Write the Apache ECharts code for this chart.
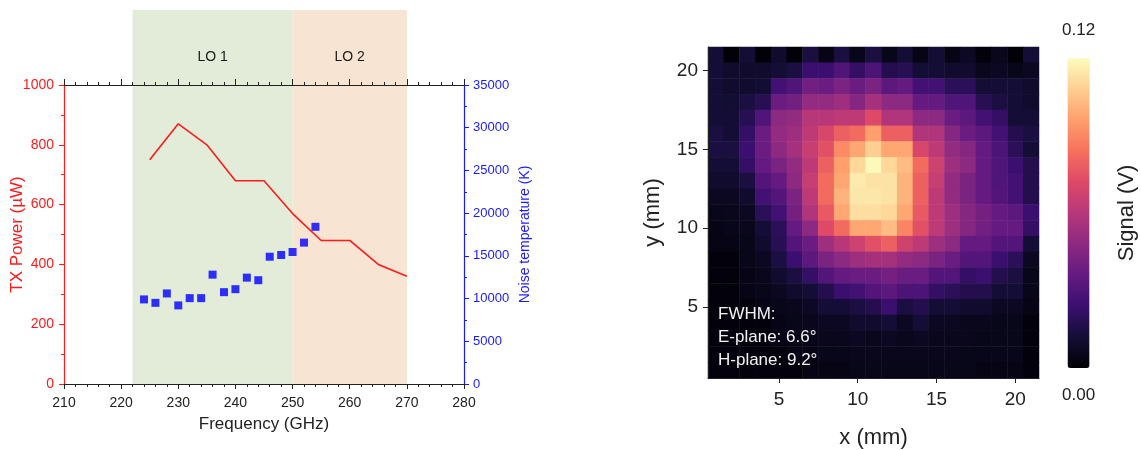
<!DOCTYPE html>
<html>
<head>
<meta charset="utf-8">
<script src="https://cdn.jsdelivr.net/npm/echarts@6/dist/echarts.min.js"></script>
<style>
  html, body { margin: 0; padding: 0; background: #fff; }
  #chart { width: 1141px; height: 450px; }
</style>
</head>
<body>
<div id="chart"></div>
<script>
// left panel: TX power and noise temperature vs frequency
var freqTx = [225, 230, 235, 240, 245, 250, 255, 260, 265, 270];
var txPower = [750, 870, 800, 680, 680, 570, 480, 480, 400, 360];

var freqNoise = [224, 226, 228, 230, 232, 234, 236, 238, 240, 242, 244, 246, 248, 250, 252, 254];
var noiseTemp = [9900, 9500, 10600, 9200, 10050, 10050, 12800, 10750, 11100, 12450, 12150, 14900, 15100, 15450, 16550, 18400];

// LO bands (GHz)
var loNames = ['LO 1', 'LO 2'];
var loStart = [222, 250];
var loEnd = [250, 270];

// right panel: beam map, signal in mV, rows from y = 21 (top) down to y = 1
var mapX = ['1','2','3','4','5','6','7','8','9','10','11','12','13','14','15','16','17','18','19','20','21'];
var mapY = ['1','2','3','4','5','6','7','8','9','10','11','12','13','14','15','16','17','18','19','20','21'];
var signalRows = [
  [12, 1, 12, 1, 10, 1, 14, 4, 14, 5, 14, 5, 12, 4, 12, 4, 8, 2, 6, 1, 12],
  [12, 10, 10, 10, 12, 14, 24, 24, 30, 22, 29, 17, 18, 12, 12, 10, 10, 6, 7, 5, 7],
  [12, 10, 10, 11, 26, 30, 40, 38, 43, 38, 43, 34, 36, 26, 26, 19, 19, 12, 12, 12, 10],
  [12, 11, 14, 18, 38, 40, 50, 50, 53, 46, 55, 48, 48, 36, 36, 30, 30, 18, 14, 12, 10],
  [12, 12, 18, 30, 48, 50, 60, 60, 62, 62, 72, 58, 58, 48, 48, 38, 34, 26, 22, 12, 12],
  [14, 12, 22, 38, 50, 53, 62, 70, 79, 82, 96, 79, 79, 58, 58, 46, 38, 34, 26, 17, 14],
  [14, 14, 24, 38, 48, 55, 65, 74, 91, 98, 108, 98, 98, 70, 62, 50, 46, 36, 29, 19, 12],
  [12, 12, 22, 36, 43, 50, 62, 79, 96, 110, 119, 110, 103, 82, 67, 53, 48, 36, 30, 24, 17],
  [10, 10, 14, 31, 36, 48, 65, 82, 98, 115, 113, 113, 101, 79, 65, 50, 43, 36, 30, 26, 17],
  [7, 7, 10, 26, 31, 43, 62, 82, 101, 114, 114, 113, 101, 79, 62, 50, 43, 36, 31, 26, 17],
  [5, 6, 7, 19, 26, 41, 58, 77, 98, 112, 112, 110, 98, 77, 62, 53, 46, 41, 36, 34, 24],
  [4, 5, 6, 12, 19, 36, 48, 72, 82, 98, 98, 103, 89, 74, 62, 53, 46, 40, 36, 36, 22],
  [4, 4, 5, 10, 18, 31, 38, 53, 60, 67, 74, 79, 67, 62, 53, 48, 36, 36, 31, 31, 12],
  [2, 2, 5, 7, 14, 24, 34, 43, 48, 53, 55, 55, 50, 48, 43, 38, 31, 31, 24, 19, 7],
  [2, 2, 4, 6, 10, 14, 22, 31, 36, 38, 38, 41, 38, 38, 31, 31, 22, 24, 17, 14, 5],
  [2, 2, 4, 5, 7, 10, 12, 17, 24, 26, 31, 34, 29, 29, 22, 19, 17, 17, 12, 12, 5],
  [2, 2, 2, 4, 5, 6, 8, 12, 12, 14, 17, 24, 14, 17, 12, 12, 10, 10, 7, 7, 4],
  [2, 2, 2, 2, 4, 5, 6, 7, 7, 10, 10, 12, 7, 12, 7, 7, 6, 6, 5, 5, 2],
  [2, 2, 2, 2, 4, 4, 5, 6, 6, 7, 6, 7, 6, 7, 6, 6, 6, 5, 5, 5, 2],
  [2, 2, 2, 2, 2, 4, 4, 5, 5, 6, 6, 6, 6, 6, 6, 6, 5, 5, 5, 5, 2],
  [2, 2, 2, 2, 2, 2, 4, 4, 4, 5, 5, 5, 5, 5, 5, 5, 5, 4, 4, 4, 2]
];
var mapTicks = ['5', '10', '15', '20'];
var magma = ['#000004', '#140e36', '#3b0f70', '#641a80', '#8c2981', '#b73779', '#de4968', '#f7705c', '#fe9f6d', '#fecf92', '#fcfdbf'];

var FONT = 'Liberation Sans, Arial, sans-serif';

var txData = freqTx.map(function (f, i) { return [f, txPower[i]]; });
var noiseData = freqNoise.map(function (f, i) { return [f, noiseTemp[i]]; });
var loColors = ['#e2ecd9', '#f8e4d2'];
var loAreas = loNames.map(function (n, i) {
  return [{ name: n, xAxis: loStart[i], itemStyle: { color: loColors[i] } }, { xAxis: loEnd[i] }];
});
var heatData = [];
signalRows.forEach(function (row, r) {
  row.forEach(function (v, c) {
    heatData.push([c, signalRows.length - 1 - r, v]);
  });
});

function tickOnly(idx, val) { return mapTicks.indexOf(val) >= 0; }
function plain(v) { return String(v); }

var chart = echarts.init(document.getElementById('chart'));
var option = {
  animation: false,
  backgroundColor: '#fff',
  textStyle: { fontFamily: FONT },
  grid: [
    { left: 64, top: 85, width: 400, height: 299, outerBoundsMode: 'none' },
    { left: 64, top: 10, width: 400, height: 374, outerBoundsMode: 'none' },
    { left: 708, top: 47, width: 331, height: 331, outerBoundsMode: 'none' }
  ],
  xAxis: [
    {
      gridIndex: 0, type: 'value', min: 210, max: 280, interval: 10, z: 10,
      name: 'Frequency (GHz)', nameLocation: 'middle', nameGap: 32, nameMoveOverlap: false,
      nameTextStyle: { color: '#222', fontSize: 17, fontFamily: FONT },
      axisLine: { show: true, onZero: false, lineStyle: { color: '#222', width: 1.2 } },
      axisTick: { show: true, inside: false, length: 5, lineStyle: { color: '#222' } },
      minorTick: { show: true, splitNumber: 5, length: 3, lineStyle: { color: '#222' } },
      axisLabel: { color: '#222', fontSize: 14, margin: 12, fontFamily: FONT, formatter: plain },
      splitLine: { show: false }
    },
    {
      gridIndex: 0, type: 'value', position: 'top', min: 210, max: 280, interval: 10, z: 10,
      axisLine: { show: true, onZero: false, lineStyle: { color: '#222', width: 1.2 } },
      axisTick: { show: true, inside: false, length: 6, lineStyle: { color: '#222' } },
      minorTick: { show: true, splitNumber: 5, length: 3, lineStyle: { color: '#222' } },
      axisLabel: { show: false },
      splitLine: { show: false }
    },
    { gridIndex: 1, type: 'value', min: 210, max: 280, show: false },
    {
      gridIndex: 2, type: 'category', data: mapX, z: 10,
      name: 'x (mm)', nameLocation: 'middle', nameGap: 49, nameMoveOverlap: false,
      nameTextStyle: { color: '#222', fontSize: 22, fontFamily: FONT },
      axisLine: { show: true, lineStyle: { color: '#222' } },
      axisTick: { show: true, alignWithLabel: true, length: 5, interval: tickOnly, lineStyle: { color: '#222' } },
      axisLabel: { show: true, interval: tickOnly, color: '#222', fontSize: 19, margin: 12, fontFamily: FONT },
      splitLine: { show: false }
    }
  ],
  yAxis: [
    {
      gridIndex: 0, type: 'value', min: 0, max: 1000, interval: 200, z: 10,
      name: 'TX Power (\u00b5W)', nameLocation: 'middle', nameGap: 38, nameRotate: 90, nameMoveOverlap: false,
      nameTextStyle: { color: '#ff1a1a', fontSize: 17, fontFamily: FONT },
      axisLine: { show: true, onZero: false, lineStyle: { color: '#ff1a1a', width: 1.2 } },
      axisTick: { show: true, length: 5, lineStyle: { color: '#ff1a1a' } },
      minorTick: { show: true, splitNumber: 2, length: 3, lineStyle: { color: '#ff1a1a' } },
      axisLabel: { color: '#ff1a1a', fontSize: 14, margin: 10, fontFamily: FONT, formatter: plain },
      splitLine: { show: false }
    },
    {
      gridIndex: 0, type: 'value', position: 'right', min: 0, max: 35000, interval: 5000, z: 10,
      name: 'Noise temperature (K)', nameLocation: 'middle', nameGap: 54, nameRotate: 90, nameMoveOverlap: false,
      nameTextStyle: { color: '#1a1aff', fontSize: 14, fontFamily: FONT },
      axisLine: { show: true, onZero: false, lineStyle: { color: '#1a1aff', width: 1.2 } },
      axisTick: { show: true, length: 5, lineStyle: { color: '#1a1aff' } },
      minorTick: { show: true, splitNumber: 2, length: 3, lineStyle: { color: '#1a1aff' } },
      axisLabel: { color: '#1a1aff', fontSize: 13, margin: 9, fontFamily: FONT, formatter: plain },
      splitLine: { show: false }
    },
    { gridIndex: 1, type: 'value', min: 0, max: 1, show: false },
    {
      gridIndex: 2, type: 'category', data: mapY, z: 10,
      name: 'y (mm)', nameLocation: 'middle', nameGap: 44, nameRotate: 90, nameMoveOverlap: false,
      nameTextStyle: { color: '#222', fontSize: 22, fontFamily: FONT },
      axisLine: { show: true, lineStyle: { color: '#222' } },
      axisTick: { show: true, alignWithLabel: true, length: 5, interval: tickOnly, lineStyle: { color: '#222' } },
      axisLabel: { show: true, interval: tickOnly, color: '#222', fontSize: 19, margin: 10, fontFamily: FONT },
      splitLine: { show: false }
    }
  ],
  visualMap: {
    type: 'continuous', seriesIndex: 3, min: 0, max: 120,
    orient: 'vertical', left: 1062, top: 22, padding: 0,
    itemWidth: 22, itemHeight: 310, calculable: false, realtime: false,
    text: ['0.12', '0.00'], textGap: 19,
    textStyle: { color: '#222', fontSize: 17, fontFamily: FONT },
    inRange: { color: magma }
  },
  graphic: [
    {
      type: 'text', left: 718, top: 303, silent: true, z: 20,
      style: {
        text: 'FWHM:\nE-plane: 6.6\u00b0\nH-plane: 9.2\u00b0',
        fill: '#f2f2f2', fontSize: 17, lineHeight: 23, fontFamily: FONT
      }
    },
    {
      type: 'text', x: 1127, y: 213, rotation: Math.PI / 2, silent: true,
      style: {
        text: 'Signal (V)', fill: '#222', fontSize: 22, fontFamily: FONT,
        align: 'center', verticalAlign: 'middle'
      }
    }
  ],
  series: [
    {
      type: 'line', xAxisIndex: 2, yAxisIndex: 2, data: [], z: 1, silent: true,
      markArea: {
        silent: true,
        label: {
          show: true, position: 'insideTop', distance: 0, offset: [0, 40],
          color: '#1a1a1a', fontSize: 14, fontFamily: FONT
        },
        data: loAreas
      }
    },
    {
      type: 'line', xAxisIndex: 0, yAxisIndex: 0, data: txData, z: 3,
      showSymbol: false, symbol: 'none',
      lineStyle: { color: '#ff1a1a', width: 1.6 }, itemStyle: { color: '#ff1a1a' }
    },
    {
      type: 'scatter', xAxisIndex: 0, yAxisIndex: 1, data: noiseData, z: 4,
      symbol: 'rect', symbolSize: 8, itemStyle: { color: '#0000ff' }
    },
    {
      type: 'heatmap', xAxisIndex: 3, yAxisIndex: 3, data: heatData, z: 2,
      emphasis: { disabled: true }
    }
  ]
};
chart.setOption(option);
</script>
</body>
</html>
